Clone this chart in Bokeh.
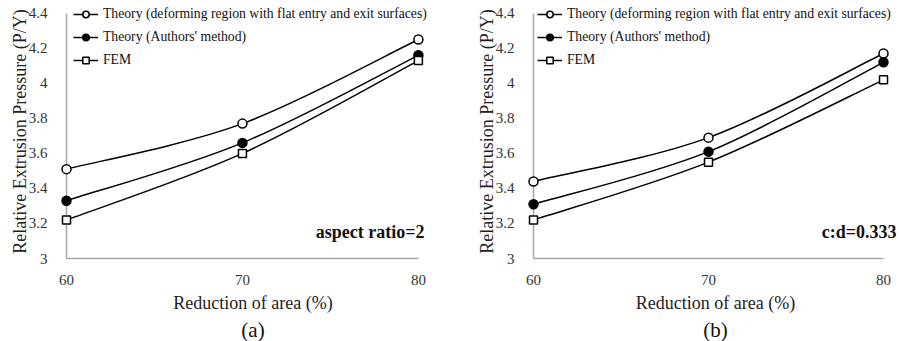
from bokeh.plotting import figure
from bokeh.layouts import row
from bokeh.models import (Range1d, FixedTicker, CustomJSTickFormatter, Legend,
                          LegendItem, Label, Title)
from bokeh.embed import file_html
from bokeh.resources import INLINE

# ---- data ----
reduction = [60, 70, 80]
a_flat = [3.51, 3.77, 4.25]
a_authors = [3.33, 3.66, 4.16]
a_fem = [3.22, 3.60, 4.13]
b_flat = [3.44, 3.69, 4.17]
b_authors = [3.31, 3.61, 4.12]
b_fem = [3.22, 3.55, 4.02]
x_ticks = [60, 70, 80]
y_ticks = [3.0, 3.2, 3.4, 3.6, 3.8, 4.0, 4.2, 4.4]
series_names = ["Theory (deforming region with flat entry and exit surfaces)",
                "Theory (Authors' method)", "FEM"]

FONT = "Liberation Serif"


def smooth(xs, ys, t=1.0 / 6.0):
    n = len(xs)
    out = dict(x0=[], y0=[], x1=[], y1=[], cx0=[], cy0=[], cx1=[], cy1=[])
    for i in range(n - 1):
        im = max(i - 1, 0)
        ip = min(i + 2, n - 1)
        out["x0"].append(xs[i]); out["y0"].append(ys[i])
        out["x1"].append(xs[i + 1]); out["y1"].append(ys[i + 1])
        out["cx0"].append(xs[i] + (xs[i + 1] - xs[im]) * t)
        out["cy0"].append(ys[i] + (ys[i + 1] - ys[im]) * t)
        out["cx1"].append(xs[i + 1] - (xs[ip] - xs[i]) * t)
        out["cy1"].append(ys[i + 1] - (ys[ip] - ys[i]) * t)
    return out


def panel(series, width, x_end, border_left, border_right, note, note_offset, tag, leg_x):
    # ranges extend a little past the data box so that legend/notes are not clipped;
    # axis bounds keep the drawn axes at 60-80 and 3-4.4
    p = figure(width=width, height=341, output_backend="svg", toolbar_location=None,
               x_range=Range1d(60, x_end), y_range=Range1d(3, 4.45),
               min_border_left=border_left, min_border_right=border_right,
               min_border_top=4, min_border_bottom=82)
    p.outline_line_color = None
    p.xgrid.visible = False
    p.ygrid.visible = False
    p.background_fill_color = "white"
    p.border_fill_color = "white"

    for ax in (p.xaxis[0], p.yaxis[0]):
        ax.axis_line_color = "#a6a6a6"
        ax.axis_line_width = 1.5
        ax.major_tick_line_color = None
        ax.minor_tick_line_color = None
        ax.major_label_text_font = FONT
        ax.major_label_text_font_size = "15px"
        ax.major_label_text_color = "#333333"
        ax.axis_label_text_font = FONT
        ax.axis_label_text_font_size = "18px"
        ax.axis_label_text_font_style = "normal"
        ax.axis_label_text_color = "#222222"
    p.xaxis.bounds = (60, 80)
    p.yaxis.bounds = (3, 4.4)
    p.xaxis.ticker = FixedTicker(ticks=x_ticks)
    p.yaxis.ticker = FixedTicker(ticks=y_ticks)
    p.yaxis.formatter = CustomJSTickFormatter(code="return String(Math.round(tick*10)/10)")
    p.xaxis.axis_label = "Reduction of area (%)"
    p.yaxis.axis_label = "Relative Extrusion Pressure (P/Y)"
    p.xaxis.major_label_standoff = 10
    p.xaxis.axis_label_standoff = 5
    p.yaxis.major_label_standoff = 13
    p.yaxis.axis_label_standoff = -4

    fills = ["white", "black", "white"]
    markers = ["circle", "circle", "square"]
    sizes = [9, 9, 8]
    items = []
    for ys, name, fc, mk, sz in zip(series, series_names, fills, markers, sizes):
        bz = p.bezier(source=smooth(reduction, ys), x0="x0", y0="y0", x1="x1", y1="y1",
                      cx0="cx0", cy0="cy0", cx1="cx1", cy1="cy1",
                      line_color="black", line_width=1.5, level="overlay")
        sc = p.scatter(reduction, ys, marker=mk, size=sz, fill_color=fc,
                       line_color="black", line_width=1.5, level="overlay")
        items.append(LegendItem(label=name, renderers=[bz, sc]))

    legend = Legend(items=items, location=(leg_x, 188), background_fill_alpha=0,
                    border_line_color=None, label_text_font=FONT,
                    label_text_font_size="13.7px", label_text_color="#111111",
                    glyph_width=25, glyph_height=16, label_standoff=5,
                    spacing=3, label_height=20, padding=0, margin=0)
    p.add_layout(legend)

    p.add_layout(Label(x=80, y=3, x_offset=note_offset, y_offset=27, text=note,
                       text_align="right", text_baseline="middle",
                       text_font=FONT, text_font_size="18px", level="overlay",
                       text_font_style="bold", text_color="#111111"))
    p.add_layout(Title(text=tag, align="center", text_font=FONT, standoff=0,
                       text_font_size="21px", text_font_style="normal",
                       text_color="#111111"), "below")
    return p


pa = panel([a_flat, a_authors, a_fem], 450, 81.2, 66, 11, "aspect ratio=2", 6, "(a)", 7)
pb = panel([b_flat, b_authors, b_fem], 449, 80.8, 83, 2, "c:d=0.333", 13, "(b)", 4)

layout = row(pa, pb, spacing=0)
open("out.html", "w").write(file_html(layout, INLINE))
